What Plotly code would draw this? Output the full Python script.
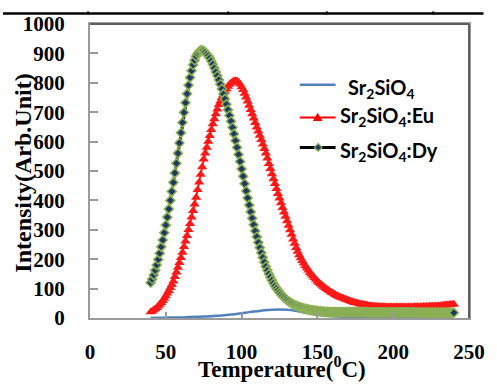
import plotly.graph_objects as go

# Temperature axis (°C) for the glow curves, 1 °C steps
temperature = list(range(40, 241))

# Sr2SiO4:Dy intensity, 40..240 °C
dy_intensity = [
    120, 132, 146, 162, 180, 199, 220, 242, 265, 290,
    316, 343, 371, 400, 430, 461, 493, 526, 560, 595,
    630, 665, 699, 732, 763, 792, 818, 841, 861, 877,
    890, 900, 906, 910, 910, 908, 904, 898, 892, 884,
    874, 863, 850, 837, 824, 810, 795, 779, 762, 745,
    727, 708, 689, 669, 648, 626, 603, 580, 556, 532,
    507, 482, 457, 432, 408, 384, 361, 339, 317, 296,
    276, 257, 239, 222, 206, 190, 175, 162, 150, 139,
    128, 118, 109, 101, 94, 87, 81, 75, 70, 65,
    61, 57, 53, 50, 47, 44, 42, 40, 38, 36,
    34, 33, 31, 30, 29, 28, 27, 26, 25, 24,
    24, 23, 23, 22, 22, 21, 21, 21, 20, 20,
    20, 20, 20, 20, 20, 20, 20, 20, 20, 20,
    20, 20, 20, 20, 20, 20, 20, 20, 20, 20,
    20, 20, 20, 20, 19, 19, 19, 19, 19, 19,
    19, 19, 19, 19, 19, 19, 19, 19, 19, 19,
    19, 19, 19, 19, 19, 19, 19, 19, 19, 19,
    19, 19, 19, 19, 19, 18, 18, 18, 18, 18,
    18, 18, 18, 18, 18, 18, 18, 18, 18, 18,
    18, 18, 18, 18, 18, 18, 18, 18, 18, 18,
    18,
]

# Sr2SiO4:Eu intensity, 40..240 °C
eu_intensity = [
    20, 23, 27, 31, 35, 40, 46, 52, 59, 66,
    75, 84, 93, 103, 113, 125, 140, 156, 172, 188,
    205, 223, 242, 261, 280, 300, 321, 343, 365, 387,
    410, 436, 462, 488, 514, 540, 560, 580, 600, 620,
    640, 660, 677, 694, 710, 725, 737, 749, 760, 770,
    779, 787, 794, 799, 803, 806, 807, 806, 802, 795,
    786, 776, 764, 751, 737, 723, 708, 694, 679, 664,
    649, 635, 621, 606, 591, 576, 560, 543, 525, 508,
    490, 473, 457, 440, 423, 407, 391, 375, 360, 345,
    330, 315, 299, 284, 268, 253, 239, 226, 214, 204,
    195, 186, 178, 170, 162, 155, 149, 143, 137, 131,
    125, 120, 116, 111, 107, 103, 99, 95, 92, 88,
    85, 82, 79, 76, 73, 71, 69, 67, 65, 63,
    61, 59, 57, 55, 53, 52, 51, 49, 48, 47,
    46, 45, 44, 43, 42, 41, 41, 40, 40, 39,
    39, 38, 38, 38, 38, 37, 37, 37, 37, 37,
    37, 37, 37, 37, 37, 37, 37, 37, 37, 37,
    37, 37, 37, 37, 38, 38, 38, 38, 38, 38,
    39, 39, 39, 39, 40, 40, 40, 40, 41, 41,
    41, 42, 42, 43, 43, 44, 44, 45, 46, 46,
    47,
]

# Undoped Sr2SiO4, sampled every 5 °C
base_temperature = list(range(40, 241, 5))
base_intensity = [
    0, 1, 1, 2, 2, 3, 4, 5, 6, 8,
    10, 13, 16, 20, 23, 26, 28, 29, 28, 25,
    20, 15, 11, 8, 6, 5, 4, 4, 4, 3,
    3, 3, 3, 3, 3, 3, 3, 3, 3, 3,
    3,
]

series_names = [
    "Sr<sub>2</sub>SiO<sub>4</sub>",
    "Sr<sub>2</sub>SiO<sub>4</sub>:Eu",
    "Sr<sub>2</sub>SiO<sub>4</sub>:Dy",
]

x_ticks = [0, 50, 100, 150, 200, 250]
y_ticks = [0, 100, 200, 300, 400, 500, 600, 700, 800, 900, 1000]

W, H = 497, 385
L, R, T, B = 90, 15, 13, 67
PW, PH = W - L - R, H - T - B


def px(x):
    return (x - L) / PW


def py(y):
    return (H - B - y) / PH


def path(points):
    return "M" + " L".join(f"{px(a):.5f},{py(b):.5f}" for a, b in points) + " Z"


serif = "Liberation Serif"
sans = "Lato"

tick_font = dict(family=serif, size=21, color="#000000", weight="bold")

BLUE, RED, NAVY, GREEN = "#4F81BD", "#FF0000", "#1F3864", "#8DB255"

fig = go.Figure()

fig.add_trace(go.Scatter(
    x=base_temperature, y=base_intensity, mode="lines", name=series_names[0],
    line=dict(color=BLUE, width=2.5, shape="spline"),
))

fig.add_trace(go.Scatter(
    x=temperature, y=eu_intensity, mode="lines+markers", name=series_names[1],
    line=dict(color=RED, width=2),
    marker=dict(symbol="triangle-up", size=9, color=RED, line=dict(width=0)),
    opacity=0.9,
))

fig.add_trace(go.Scatter(
    x=temperature, y=dy_intensity, mode="lines+markers", name=series_names[2],
    line=dict(color="#000000", width=3),
    marker=dict(symbol="diamond", size=7, color=NAVY,
                line=dict(color=GREEN, width=1.5)),
))

# Key drawn by hand so it never pushes the plot margins
legend_rows = [
    # (sample line y, text x, text y, colour, line width)
    (76, 355, 80, BLUE, 2.5),
    (110, 347, 109, RED, 2),
    (141, 347, 145, "#000000", 3),
]

key_shapes = []
key_notes = []
for (ly, tx, ty, col, lw), name in zip(legend_rows, series_names):
    key_shapes.append(dict(type="line", xref="paper", yref="paper",
                           x0=px(307), x1=px(344), y0=py(ly), y1=py(ly),
                           line=dict(color=col, width=lw)))
    key_notes.append(dict(text=name, xref="paper", yref="paper", x=px(tx), y=py(ty),
                          showarrow=False, xanchor="left", yanchor="middle",
                          font=dict(family=sans, size=20, color="#000000")))

key_shapes.append(dict(type="path", xref="paper", yref="paper",
                       path=path([(325.5, 105), (320.5, 113.5), (330.5, 113.5)]),
                       fillcolor=RED, line=dict(width=0)))
key_shapes.append(dict(type="path", xref="paper", yref="paper",
                       path=path([(326, 137), (330, 141), (326, 145), (322, 141)]),
                       fillcolor=NAVY, line=dict(color=GREEN, width=1.2)))

fig.update_layout(
    width=W, height=H,
    margin=dict(l=L, r=R, t=T, b=B),
    paper_bgcolor="white", plot_bgcolor="white",
    font=tick_font,
    showlegend=False,
    xaxis=dict(
        range=[0, 250], tickvals=x_ticks, ticktext=[str(v) for v in x_ticks],
        showgrid=False, zeroline=False,
        showline=True, linecolor="#9a9a9a", linewidth=2, mirror=True,
        ticks="inside", ticklen=6, tickwidth=1.5, tickcolor="#9a9a9a",
        ticklabelstandoff=14, ticklabeloverflow="allow",
        tickfont=tick_font,
    ),
    yaxis=dict(
        range=[0, 1000], tickvals=y_ticks, ticktext=[str(v) for v in y_ticks],
        showgrid=False, zeroline=False,
        showline=True, linecolor="#9a9a9a", linewidth=2, mirror=True,
        ticks="inside", ticklen=8, tickwidth=1.5, tickcolor="#9a9a9a",
        ticklabelstandoff=19,
        tickfont=tick_font,
    ),
    annotations=[
        dict(text="<b>Temperature(<sup>0</sup>C)</b>", xref="paper", yref="paper",
             x=px(289), y=py(369), showarrow=False, xanchor="center", yanchor="middle",
             font=dict(family=serif, size=23, color="#000000")),
        dict(text="<b>Intensity(Arb.Unit)</b>", xref="paper", yref="paper",
             x=px(21), y=py(168), showarrow=False, textangle=-90,
             xanchor="center", yanchor="middle",
             font=dict(family=serif, size=24, color="#000000")),
        *key_notes,
    ],
    shapes=[
        # darker frame edges on top and right
        dict(type="line", xref="paper", yref="paper", x0=0, x1=1, y0=1, y1=1,
             line=dict(color="#5f5f5f", width=2)),
        dict(type="line", xref="paper", yref="paper", x0=1, x1=1, y0=0, y1=1,
             line=dict(color="#5f5f5f", width=2)),
        # table rule above the chart
        dict(type="line", xref="paper", yref="paper", x0=px(0), x1=px(W),
             y0=py(2), y1=py(2), line=dict(color="#000000", width=2.5)),
        *[dict(type="line", xref="paper", yref="paper", x0=px(v), x1=px(v),
               y0=py(0), y1=py(3), line=dict(color="#000000", width=2))
          for v in (88, 233, 335, 445)],
        *key_shapes,
    ],
)

fig.write_html("out.html")
